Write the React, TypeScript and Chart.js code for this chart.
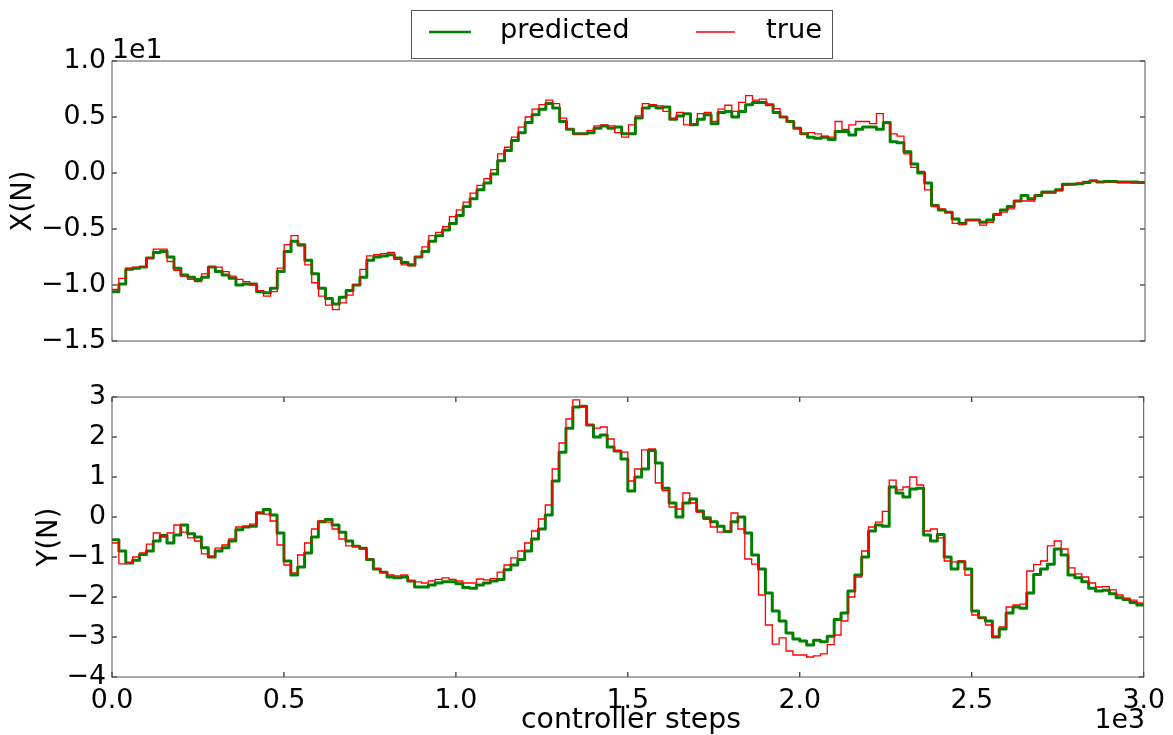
import React, { useEffect, useRef } from "react";
import { Chart, registerables } from "chart.js";

Chart.register(...registerables);

// Controller steps are sampled every STEP steps, from 0 to 3000.
const STEP = 20;

// X force (N), predicted by the model
const predictedX = [
  -10.6, -9.9, -8.6, -8.5, -8.4, -7.6, -7.1, -7.0, -7.5, -8.5,
  -9.1, -9.3, -9.5, -9.3, -8.4, -8.8, -9.1, -9.4, -10.0, -9.9,
  -9.9, -10.6, -10.7, -10.3, -8.8, -7.0, -6.1, -6.4, -7.8, -9.0,
  -10.3, -11.2, -11.7, -11.1, -10.5, -10.0, -9.3, -7.8, -7.5, -7.4,
  -7.3, -7.6, -8.0, -8.2, -7.5, -7.0, -6.1, -5.6, -5.1, -4.5,
  -3.8, -3.0, -2.3, -1.5, -0.9, -0.1, 1.1, 2.0, 2.9, 3.6,
  4.5, 5.2, 5.7, 6.2, 5.8, 4.6, 3.9, 3.5, 3.5, 3.6,
  4.0, 4.2, 4.0, 4.1, 3.5, 3.5, 4.9, 5.8, 6.0, 5.8,
  5.9, 4.8, 5.1, 5.3, 4.3, 4.8, 5.2, 4.4, 5.4, 5.5,
  5.0, 5.5, 6.1, 6.3, 6.3, 6.1, 5.4, 5.0, 4.6, 4.0,
  3.5, 3.2, 3.1, 3.2, 3.0, 3.7, 3.7, 3.4, 3.9, 4.1,
  4.1, 3.9, 4.5, 2.8, 2.7, 1.9, 0.8, 0.0, -0.9, -2.9,
  -3.3, -3.5, -4.1, -4.5, -4.2, -4.2, -4.4, -4.2, -3.7, -3.3,
  -3.0, -2.5, -2.0, -2.3, -2.0, -1.7, -1.7, -1.5, -1.0, -1.0,
  -0.95, -0.85, -0.7, -0.8, -0.75, -0.75, -0.8, -0.8, -0.8, -0.85,
  -0.9,
];

// X force (N), measured
const trueX = [
  -10.4, -9.4, -8.5, -8.4, -8.4, -7.6, -6.8, -6.8, -7.9, -8.7,
  -9.2, -9.5, -9.7, -9.0, -8.4, -8.4, -8.8, -9.2, -9.5, -9.7,
  -10.0, -10.5, -11.0, -10.6, -8.5, -6.4, -5.6, -6.5, -8.2, -9.8,
  -11.0, -11.8, -12.2, -11.6, -10.9, -10.0, -8.6, -7.4, -7.3, -7.2,
  -7.1, -7.7, -8.2, -8.3, -7.5, -6.6, -5.6, -5.3, -4.8, -3.9,
  -3.3, -2.6, -1.8, -1.1, -0.5, 0.3, 1.7, 2.3, 3.2, 4.1,
  5.0, 5.7, 6.1, 6.5, 6.2, 4.9, 3.9, 3.5, 3.5, 3.8,
  4.2, 4.3, 4.2, 3.6, 3.2, 4.3, 5.1, 6.2, 6.1, 6.0,
  5.5, 4.9, 5.4, 4.3, 4.4, 5.3, 5.4, 4.6, 5.7, 6.05,
  5.5, 6.3, 6.9, 6.5, 6.6, 6.1, 5.75, 5.0, 4.6, 4.0,
  3.5, 3.6, 3.5, 3.3, 3.2, 4.6, 3.9, 4.3, 4.6, 4.6,
  4.4, 5.3, 4.4, 3.5, 3.3, 1.7, 0.5, 0.15, -1.5, -3.0,
  -3.2, -3.5, -4.5, -4.6, -4.2, -4.2, -4.65, -4.4, -3.7, -3.5,
  -3.2, -2.5, -2.5, -2.5, -2.0, -1.8, -1.8, -1.6, -1.1, -0.95,
  -0.9, -0.75, -0.7, -0.8, -0.8, -0.8, -0.85, -0.85, -0.9, -0.9,
  -0.95,
];

// Y force (N), predicted by the model
const predictedY = [
  -0.57, -0.85, -1.15, -1.08, -0.94, -0.85, -0.6, -0.46, -0.65, -0.45,
  -0.2, -0.42, -0.5, -0.77, -1.0, -0.85, -0.77, -0.6, -0.32, -0.25,
  -0.23, 0.1, 0.19, 0.05, -0.4, -1.1, -1.45, -1.25, -0.9, -0.5,
  -0.12, -0.06, -0.2, -0.38, -0.6, -0.73, -0.78, -1.06, -1.3, -1.38,
  -1.5, -1.52, -1.5, -1.6, -1.75, -1.75, -1.7, -1.65, -1.62, -1.62,
  -1.67, -1.76, -1.78, -1.7, -1.65, -1.6, -1.56, -1.32, -1.2, -1.06,
  -0.85, -0.55, -0.3, 0.05, 0.9, 1.62, 2.22, 2.75, 2.77, 2.3,
  2.0, 2.05, 1.75, 1.65, 1.45, 0.65, 1.0, 1.2, 1.66, 1.35,
  0.72, 0.35, 0.0, 0.35, 0.45, 0.15, -0.02, -0.12, -0.23, -0.36,
  -0.12, 0.0, -0.4, -0.95, -1.3, -1.9, -2.35, -2.6, -2.9, -3.05,
  -3.1, -3.2, -3.08, -3.12, -2.98, -2.56, -2.4, -1.85, -1.45, -1.0,
  -0.35, -0.2, -0.23, 0.75, 0.6, 0.5, 0.7, 0.72, -0.45, -0.6,
  -0.44, -1.0, -1.3, -1.12, -1.3, -2.35, -2.52, -2.6, -3.0, -2.8,
  -2.4, -2.25, -2.28, -1.9, -1.44, -1.3, -1.18, -0.8, -0.95, -1.45,
  -1.52, -1.62, -1.78, -1.85, -1.83, -1.92, -2.02, -2.06, -2.14, -2.2,
  -2.23,
];

// Y force (N), measured
const trueY = [
  -0.65, -1.17, -1.15, -1.0, -0.9, -0.68, -0.4, -0.5, -0.4, -0.2,
  -0.38, -0.52, -0.6, -0.92, -0.98, -0.78, -0.7, -0.55, -0.25, -0.23,
  -0.18, 0.12, 0.07, -0.1, -0.7, -1.2, -1.4, -0.95, -0.65, -0.3,
  -0.1, -0.13, -0.3, -0.55, -0.72, -0.73, -0.8, -1.06, -1.3, -1.38,
  -1.45, -1.47, -1.45, -1.6, -1.62, -1.65, -1.6, -1.56, -1.52, -1.56,
  -1.6, -1.65, -1.65, -1.55, -1.57, -1.54, -1.38, -1.2, -1.02, -0.85,
  -0.65, -0.35, -0.05, 0.3, 1.2, 1.85, 2.45, 2.93, 2.75, 2.3,
  2.22, 2.25, 1.95, 1.66, 1.62, 0.9, 1.2, 1.68, 1.7, 0.85,
  0.66, 0.25, 0.2, 0.6, 0.35, 0.12, -0.06, -0.25, -0.38, -0.36,
  0.1, -0.3, -1.05, -1.18, -1.95, -2.7, -3.18, -3.02, -3.35, -3.45,
  -3.45, -3.5, -3.47, -3.42, -3.19, -2.95, -2.6, -2.0, -1.5, -0.85,
  -0.25, -0.13, 0.14, 0.92, 0.68, 0.75, 1.0, 0.8, -0.35, -0.3,
  -0.52, -1.1, -1.12, -1.1, -1.45, -2.45, -2.52, -2.7, -2.98, -2.75,
  -2.25, -2.2, -2.18, -1.35, -1.19, -1.1, -0.72, -0.6, -0.8, -1.27,
  -1.42, -1.5, -1.65, -1.75, -1.74, -1.82, -1.95, -2.03, -2.08, -2.15,
  -2.19,
];

// Axis ranges and tick spacing
const X_RANGE = [0, 3000];
const X_TICK_STEP = 500;
const TOP_RANGE = [-15, 10];
const TOP_TICK_STEP = 5;
const BOTTOM_RANGE = [-4, 3];
const BOTTOM_TICK_STEP = 1;

const SERIES_NAMES = ["predicted", "true"];
const GREEN = "#008000";
const RED = "#ff0000";
const FONT = '"DejaVu Sans", sans-serif';
const MINUS = "\u2212";
const TICK_SIZE = 26.8;
const LABEL_SIZE = 27.5;

const W = 1173;
const TOP_H = 370;
const BOTTOM_H = 365;

const toPoints = (values: number[]) =>
  values.map((v, i) => ({ x: i * STEP, y: v }));

const fmt = (n: number, digits: number) => {
  const s = Math.abs(n).toFixed(digits);
  return n < 0 && Number(s) !== 0 ? MINUS + s : s;
};

type DecorOpts = {
  xTicks: boolean;
  draw: (ctx: CanvasRenderingContext2D, chart: any) => void;
};

// Frame, inward tick marks and free text drawn on top of the plot.
const makeDecor = (opts: DecorOpts) => ({
  id: "axesDecor",
  afterDatasetsDraw(chart: any) {
    const { ctx, chartArea: a, scales } = chart;
    ctx.save();
    ctx.strokeStyle = "#000";
    ctx.lineWidth = 1;
    const TL = 5;
    ctx.beginPath();
    scales.y.ticks.forEach((t: any) => {
      const py = scales.y.getPixelForValue(t.value);
      ctx.moveTo(a.left, py);
      ctx.lineTo(a.left + TL, py);
      ctx.moveTo(a.right, py);
      ctx.lineTo(a.right - TL, py);
    });
    if (opts.xTicks) {
      scales.x.ticks.forEach((t: any) => {
        const px = scales.x.getPixelForValue(t.value);
        ctx.moveTo(px, a.bottom);
        ctx.lineTo(px, a.bottom - TL);
        ctx.moveTo(px, a.top);
        ctx.lineTo(px, a.top + TL);
      });
    }
    ctx.stroke();
    ctx.strokeStyle = "#555";
    ctx.strokeRect(a.left, a.top, a.right - a.left, a.bottom - a.top);
    ctx.restore();
  },
  afterDraw(chart: any) {
    const ctx = chart.ctx;
    ctx.save();
    ctx.fillStyle = "#000";
    opts.draw(ctx, chart);
    ctx.restore();
  },
});

const rotatedLabel = (
  ctx: CanvasRenderingContext2D,
  text: string,
  cx: number,
  cy: number
) => {
  ctx.save();
  ctx.translate(cx, cy);
  ctx.rotate(-Math.PI / 2);
  ctx.font = `${LABEL_SIZE}px ${FONT}`;
  ctx.textAlign = "center";
  ctx.textBaseline = "middle";
  ctx.fillText(text, 0, 0);
  ctx.restore();
};

const drawLegend = (ctx: CanvasRenderingContext2D) => {
  ctx.save();
  ctx.fillStyle = "#fff";
  ctx.fillRect(412, 11, 421, 48);
  ctx.strokeStyle = "#555";
  ctx.lineWidth = 1;
  ctx.strokeRect(411.5, 10.5, 421, 48);
  ctx.lineCap = "butt";
  ctx.strokeStyle = GREEN;
  ctx.lineWidth = 2.5;
  ctx.beginPath();
  ctx.moveTo(429, 32);
  ctx.lineTo(471, 32);
  ctx.stroke();
  ctx.strokeStyle = RED;
  ctx.lineWidth = 1.3;
  ctx.beginPath();
  ctx.moveTo(696, 32);
  ctx.lineTo(735, 32);
  ctx.stroke();
  ctx.fillStyle = "#000";
  ctx.font = `27.3px ${FONT}`;
  ctx.textAlign = "left";
  ctx.textBaseline = "alphabetic";
  ctx.fillText(SERIES_NAMES[0], 500, 38);
  ctx.fillText(SERIES_NAMES[1], 766, 38);
  ctx.restore();
};

const tickFont = { family: FONT, size: TICK_SIZE };

const baseDatasets = (pred: number[], actual: number[]) => [
  {
    label: SERIES_NAMES[0],
    data: toPoints(pred),
    borderColor: GREEN,
    borderWidth: 3,
    stepped: true,
    pointRadius: 0,
    fill: false,
    borderJoinStyle: "round" as const,
    order: 1,
  },
  {
    label: SERIES_NAMES[1],
    data: toPoints(actual),
    borderColor: RED,
    borderWidth: 1.3,
    stepped: true,
    pointRadius: 0,
    fill: false,
    order: 0,
  },
];

const makeConfig = (
  pred: number[],
  actual: number[],
  range: number[],
  step: number,
  yFmt: (v: number) => string,
  showX: boolean,
  padding: { top: number; bottom: number },
  decor: DecorOpts
): any => ({
  type: "line",
  data: { datasets: baseDatasets(pred, actual) },
  options: {
    responsive: false,
    animation: false,
    events: [],
    layout: { padding: { left: 0, right: 28, top: padding.top, bottom: padding.bottom } },
    plugins: { legend: { display: false }, tooltip: { enabled: false } },
    scales: {
      x: {
        type: "linear",
        min: X_RANGE[0],
        max: X_RANGE[1],
        display: showX,
        grid: { display: false, drawTicks: false },
        border: { display: false },
        ticks: {
          stepSize: X_TICK_STEP,
          autoSkip: false,
          maxRotation: 0,
          color: "#000",
          font: tickFont,
          padding: 8,
          callback: (v: number) => fmt(v / 1000, 1),
        },
        afterFit: (s: any) => {
          s.height = showX ? 58 : 0;
        },
      },
      y: {
        type: "linear",
        min: range[0],
        max: range[1],
        grid: { display: false, drawTicks: false },
        border: { display: false },
        ticks: {
          stepSize: step,
          autoSkip: false,
          color: "#000",
          font: tickFont,
          padding: 6,
          callback: (v: number) => yFmt(v),
        },
        afterFit: (s: any) => {
          s.width = 112;
        },
      },
    },
  },
  plugins: [makeDecor(decor)],
});

export default function App() {
  const topRef = useRef<HTMLCanvasElement>(null);
  const bottomRef = useRef<HTMLCanvasElement>(null);

  useEffect(() => {
    const top = new Chart(
      topRef.current!,
      makeConfig(
        predictedX,
        trueX,
        TOP_RANGE,
        TOP_TICK_STEP,
        (v) => fmt(v / 10, 1),
        false,
        { top: 61, bottom: 29 },
        {
          xTicks: false,
          draw: (ctx) => {
            ctx.font = `${TICK_SIZE}px ${FONT}`;
            ctx.textAlign = "left";
            ctx.textBaseline = "alphabetic";
            ctx.fillText("1e1", 112, 58);
            rotatedLabel(ctx, "X(N)", 24, 201);
            drawLegend(ctx);
          },
        }
      )
    );
    const bottom = new Chart(
      bottomRef.current!,
      makeConfig(
        predictedY,
        trueY,
        BOTTOM_RANGE,
        BOTTOM_TICK_STEP,
        (v) => fmt(v, 0),
        true,
        { top: 27, bottom: 0 },
        {
          xTicks: true,
          draw: (ctx) => {
            rotatedLabel(ctx, "Y(N)", 50, 167);
            ctx.font = `28.3px ${FONT}`;
            ctx.textAlign = "center";
            ctx.textBaseline = "alphabetic";
            ctx.fillText("controller steps", 631, 358);
            ctx.font = `${TICK_SIZE}px ${FONT}`;
            ctx.textAlign = "right";
            ctx.fillText("1e3", 1145, 358);
          },
        }
      )
    );
    return () => {
      top.destroy();
      bottom.destroy();
    };
  }, []);

  return (
    <div
      style={{
        position: "absolute",
        left: 0,
        top: 0,
        width: W,
        height: TOP_H + BOTTOM_H,
        background: "#fff",
      }}
    >
      <canvas
        ref={topRef}
        width={W}
        height={TOP_H}
        style={{ position: "absolute", left: 0, top: 0 }}
      />
      <canvas
        ref={bottomRef}
        width={W}
        height={BOTTOM_H}
        style={{ position: "absolute", left: 0, top: TOP_H }}
      />
    </div>
  );
}
